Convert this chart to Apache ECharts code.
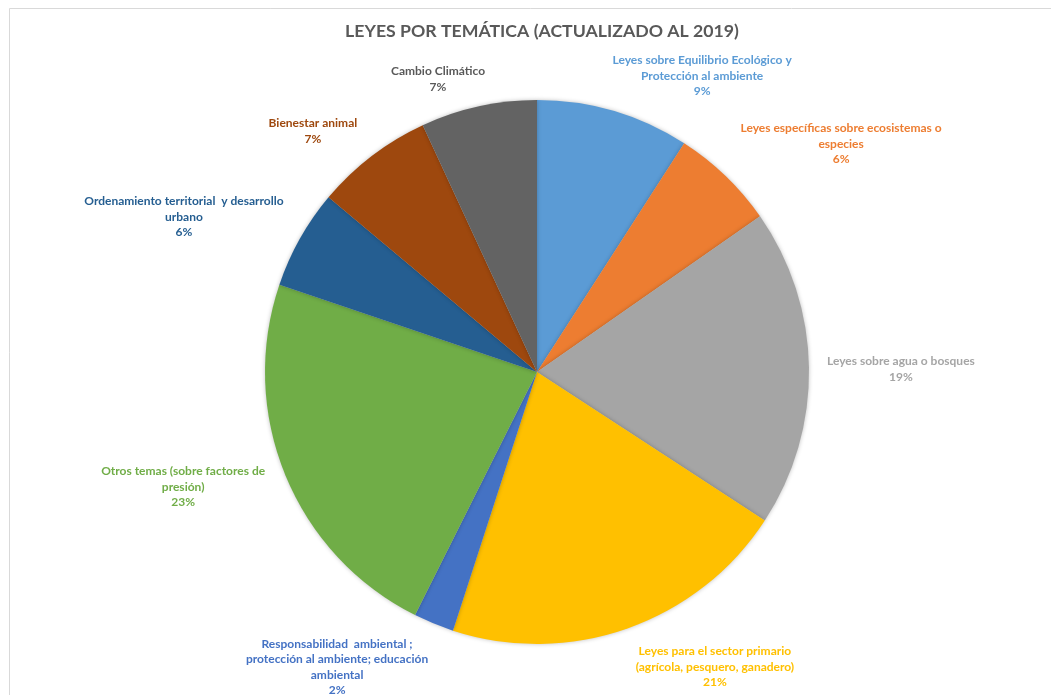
<!DOCTYPE html>
<html>
<head>
<meta charset="utf-8">
<script src="https://cdn.jsdelivr.net/npm/echarts@6/dist/echarts.min.js"></script>
<style>
html,body{margin:0;padding:0;background:#fff;}
#chart{width:1051px;height:695px;}
</style>
</head>
<body>
<div id="chart"></div>
<script>
// ---- data ----
var categories = [
  'Leyes sobre Equilibrio Ecológico y\nProtección al ambiente',
  'Leyes específicas sobre ecosistemas o\nespecies',
  'Leyes sobre agua o bosques',
  'Leyes para el sector primario\n(agrícola, pesquero, ganadero)',
  'Responsabilidad  ambiental ;\nprotección al ambiente; educación\nambiental',
  'Otros temas (sobre factores de\npresión)',
  'Ordenamiento territorial  y desarrollo\nurbano',
  'Bienestar animal',
  'Cambio Climático'
];
var values = [9.1, 6.2, 18.9, 20.8, 2.4, 22.8, 5.9, 7.0, 6.9];
var colors = ['#5B9BD5', '#ED7D31', '#A5A5A5', '#FFC000', '#4472C4', '#70AD47', '#255E91', '#9E480E', '#636363'];
var labelColors = ['#5B9BD5', '#ED7D31', '#A5A5A5', '#FFC000', '#4472C4', '#70AD47', '#255E91', '#9E480E', '#595959'];
var titleText = 'LEYES POR TEMÁTICA (ACTUALIZADO AL 2019)';

// ---- layout (label anchors relative to pie centre, in units of radius) ----
var pieCenter = [537, 372];
var pieRadius = 272;
var labelAnchors = [
  [0.607, -1.088], [1.118, -0.838], [1.338, -0.011], [0.654, 1.085], [-0.735, 1.085],
  [-1.301, 0.423], [-1.298, -0.570], [-0.824, -0.886], [-0.364, -1.077]
];

var FONT = 'Lato, "Open Sans", sans-serif';

var data = categories.map(function (c, i) {
  return {
    name: c,
    value: values[i],
    itemStyle: { color: colors[i] },
    label: { color: labelColors[i] }
  };
});

var chart = echarts.init(document.getElementById('chart'), null, { renderer: 'canvas' });
chart.setOption({
  animation: false,
  backgroundColor: '#ffffff',
  title: {
    text: titleText,
    left: 537,
    textAlign: 'center',
    top: 17,
    textStyle: { fontFamily: FONT, fontSize: 17.7, fontWeight: 'bold', color: '#595959' }
  },
  graphic: [{
    type: 'polyline',
    shape: { points: [[9.5, 700], [9.5, 8.5], [1060, 8.5]] },
    style: { stroke: '#d9d9d9', lineWidth: 1, fill: null },
    silent: true
  }],
  series: [{
    type: 'pie',
    center: pieCenter,
    radius: pieRadius,
    startAngle: 90,
    clockwise: true,
    data: data,
    itemStyle: { borderWidth: 0, shadowBlur: 4, shadowColor: 'rgba(0,0,0,0.25)' },
    label: {
      show: true,
      position: 'outside',
      fontFamily: FONT,
      fontSize: 12,
      fontWeight: 'bold',
      lineHeight: 15.5,
      align: 'center',
      formatter: function (p) { return p.name + '\n' + Math.round(p.percent) + '%'; }
    },
    labelLine: { show: false },
    labelLayout: function (p) {
      var a = labelAnchors[p.dataIndex];
      return {
        x: pieCenter[0] + a[0] * pieRadius,
        y: pieCenter[1] + a[1] * pieRadius,
        align: 'center',
        verticalAlign: 'middle'
      };
    },
    emphasis: { disabled: true }
  }]
});
</script>
</body>
</html>
